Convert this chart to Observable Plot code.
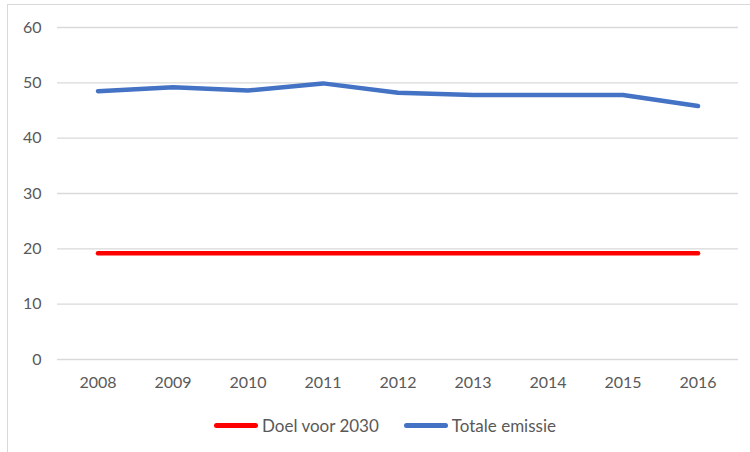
<!DOCTYPE html>
<html>
<head>
<meta charset="utf-8">
<script src="https://cdn.jsdelivr.net/npm/d3@7"></script>
<script src="https://cdn.jsdelivr.net/npm/@observablehq/plot@0.6"></script>
<style>
  html, body { margin: 0; padding: 0; background: #fff; overflow: hidden; }
  #wrap { position: relative; width: 750px; height: 452px; overflow: hidden; font-family: Lato, "Open Sans", sans-serif; }
  #frame { position: absolute; left: 7px; top: 4px; width: 760px; height: 460px; border-left: 1.5px solid #d9d9d9; border-top: 1.5px solid #d9d9d9; box-sizing: border-box; pointer-events: none; }
  #chart { position: absolute; left: 0; top: 0; }
  #legend { position: absolute; left: 214px; top: 415px; display: flex; align-items: center; font-size: 17px; color: #595959; }
  .item { display: flex; align-items: center; }
  .sw { width: 44px; height: 5px; border-radius: 3px; margin-right: 4px; }
</style>
</head>
<body>
<div id="wrap">
  <div id="chart"></div>
  <div id="frame"></div>
  <div id="legend"></div>
</div>
<script>
const years = ["2008","2009","2010","2011","2012","2013","2014","2015","2016"];
const totaleEmissie = [48.5, 49.2, 48.6, 49.9, 48.2, 47.8, 47.8, 47.8, 45.8];
const doel2030 = [19.2, 19.2, 19.2, 19.2, 19.2, 19.2, 19.2, 19.2, 19.2];
const yTicks = [0, 10, 20, 30, 40, 50, 60];
const seriesNames = ["Doel voor 2030", "Totale emissie"];
const seriesColors = ["#ff0000", "#4472c4"];

const data = [];
years.forEach((y, i) => {
  data.push({year: y, value: doel2030[i], series: seriesNames[0]});
  data.push({year: y, value: totaleEmissie[i], series: seriesNames[1]});
});

const chart = Plot.plot({
  width: 750,
  height: 400,
  marginTop: 27,
  marginBottom: 41,
  marginLeft: 57,
  marginRight: 12,
  style: {fontFamily: "Lato, 'Open Sans', sans-serif", fontSize: "16px", color: "#595959", background: "transparent"},
  x: {type: "band", domain: years, padding: 0, label: null},
  y: {domain: [0, 60], ticks: yTicks, label: null},
  color: {domain: seriesNames, range: seriesColors},
  marks: [
    Plot.gridY(yTicks, {stroke: "#d9d9d9", strokeOpacity: 1, strokeWidth: 1.3}),
    Plot.axisY({ticks: yTicks, tickSize: 0, tickPadding: 16, fill: "#595959", label: null}),
    Plot.axisX({tickSize: 0, tickPadding: 17, fill: "#595959", label: null}),
    Plot.line(data, {x: "year", y: "value", z: "series", stroke: "series", strokeWidth: 4.5, strokeLinecap: "round", strokeLinejoin: "round"})
  ]
});
document.getElementById("chart").appendChild(chart);

const legend = document.getElementById("legend");
seriesNames.forEach((name, i) => {
  const item = document.createElement("div");
  item.className = "item";
  item.style.marginRight = i === 0 ? "25px" : "0";
  const sw = document.createElement("div");
  sw.className = "sw";
  sw.style.background = seriesColors[i];
  const t = document.createElement("span");
  t.textContent = name;
  item.appendChild(sw);
  item.appendChild(t);
  legend.appendChild(item);
});
</script>
</body>
</html>
